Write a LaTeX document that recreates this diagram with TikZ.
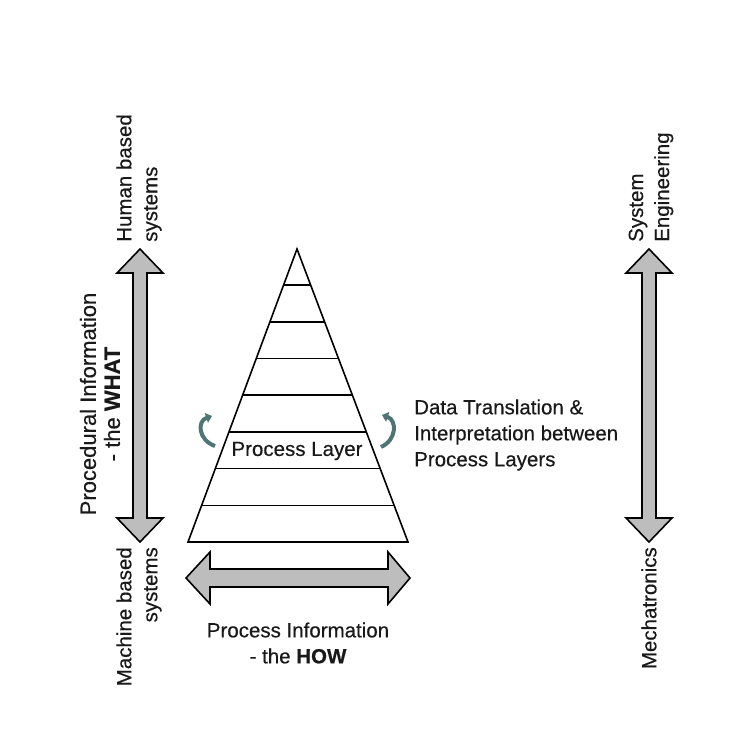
\documentclass[tikz,border=0pt]{standalone}
\usepackage{fontspec}
\setmainfont{Liberation Sans}[FakeBold=0.4, BoldFeatures={FakeBold=0.4}]
\usepackage{tikz}
\usetikzlibrary{positioning,arrows.meta,calc}

\definecolor{arrowgray}{HTML}{BDBDBD}
\definecolor{curlteal}{HTML}{4E7474}

\tikzset{
  blockarrow/.style={draw=black, line width=1.6pt, fill=arrowgray, line join=miter},
  label/.style={inner sep=0pt, text=black!90, font=\fontsize{20.5}{26}\selectfont},
  curl/.style={curlteal, line width=4pt, -{Triangle[length=6pt,width=10pt]}},
}

\begin{document}
\begin{tikzpicture}[x=1pt, y=-1pt]
\useasboundingbox (0,0) rectangle (743,739);

% Layer pyramid
\coordinate (apex) at (297,249);
\coordinate (baseL) at (188,542);
\coordinate (baseR) at (408,542);
\begin{scope}
  \clip (apex) -- (baseL) -- (baseR) -- cycle;
  \foreach \k in {1,...,7}
    \draw[line width=1.6pt] (150,542-\k*36.7) -- (450,542-\k*36.7);
\end{scope}
\draw[line width=1.6pt, line join=miter] (apex) -- (baseL) -- (baseR) -- cycle;
\node[label] (layer) at (297,451) {Process Layer};

% Vertical double arrows
\foreach \cx in {140,649} {
  \draw[blockarrow] (\cx,249) -- (\cx+23,273) -- (\cx+7,273) -- (\cx+7,518)
    -- (\cx+23,518) -- (\cx,542) -- (\cx-23,518) -- (\cx-7,518) -- (\cx-7,273)
    -- (\cx-23,273) -- cycle;
}
\coordinate (whattop) at (140,242);
\coordinate (whatbot) at (140,547);
\coordinate (engtop) at (649,242);
\coordinate (engbot) at (649,547);

% Horizontal double arrow
\draw[blockarrow] (186,578) -- (210,552) -- (210,569) -- (388,569) -- (388,552)
  -- (410,578) -- (388,604) -- (388,587) -- (210,587) -- (210,604) -- cycle;

% Curled arrows beside the layer
\draw[curl] (215,446) .. controls (198,440) and (197,421) .. (212,416);
\draw[curl] (381,447) .. controls (397,440) and (397,420) .. (382,415);

% Labels
\node[label, rotate=90, anchor=west, align=left] (human) at ($(whattop)+(-1,0)$)
  {Human based\\systems};
\node[label, rotate=90, anchor=east, align=right] (machine) at ($(whatbot)+(-1,0)$)
  {Machine based\\systems};
\node[label, rotate=90, align=center, font=\fontsize{22}{24}\selectfont] (what) at (100,404)
  {Procedural Information\\- the \textbf{WHAT}};
\node[label, rotate=90, anchor=west, align=left] (syseng) at ($(engtop)+(2,0)$)
  {System\\Engineering};
\node[label, rotate=90, anchor=east] (mecha) at (engbot) {Mechatronics};
\node[label, anchor=west, align=left] (translate) at (414,435)
  {Data Translation \&\\Interpretation between\\Process Layers};
\node[label, align=center] (how) at (298,643)
  {Process Information\\- the \textbf{HOW}};
\end{tikzpicture}
\end{document}
